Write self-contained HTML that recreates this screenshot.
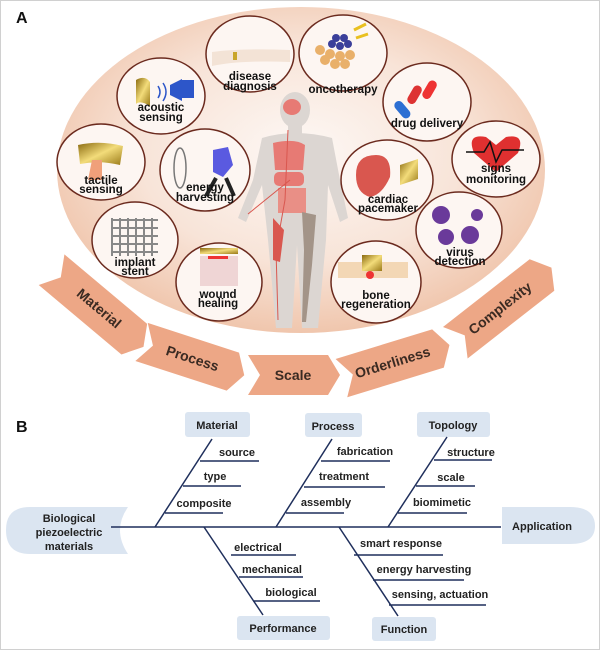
<!DOCTYPE html>
<html><head><meta charset="utf-8"><style>
html,body{margin:0;padding:0;background:#fff}
svg{display:block}
text{font-family:"Liberation Sans",Arial,sans-serif}
</style></head><body>
<svg width="600" height="650" viewBox="0 0 600 650" xmlns="http://www.w3.org/2000/svg">
<defs>
<radialGradient id="eg" cx="50%" cy="45%" r="55%">
<stop offset="0" stop-color="#fdf8f5"/><stop offset="0.6" stop-color="#f8e4d8"/><stop offset="1" stop-color="#f0c6ad"/>
</radialGradient>
<linearGradient id="gold" x1="0" y1="0" x2="1" y2="1"><stop offset="0" stop-color="#8a6a10"/><stop offset="0.5" stop-color="#f3dc7a"/><stop offset="1" stop-color="#9a7a18"/></linearGradient>
</defs>
<rect x="0.5" y="0.5" width="599" height="649" fill="#fff" stroke="#d0d0d0"/>
<text x="16" y="23" font-size="16" font-weight="bold" fill="#111">A</text>
<ellipse cx="301" cy="170" rx="244" ry="163" fill="url(#eg)"/>

<!-- human -->
<g fill="#dcd6d2">
<ellipse cx="295" cy="110" rx="15" ry="18"/>
<rect x="288" y="124" width="14" height="14"/>
<path d="M262 138 Q295 128 332 138 L340 180 L348 218 L340 222 L328 185 L326 240 L318 328 L302 328 L297 245 L292 328 L276 328 L268 240 L262 185 L246 222 L238 218 L253 180 Z"/>
</g>
<g fill="#e77a74">
<ellipse cx="292" cy="107" rx="9" ry="8"/>
<path d="M273 143 Q295 138 305 145 L303 170 L275 170 Z"/>
<rect x="274" y="172" width="30" height="14" rx="5"/>
<path d="M278 188 h28 v25 h-28 z" fill="#e98f86"/>
<path d="M273 218 L284 230 L280 262 L273 260 Z" fill="#d9574f"/>
</g>
<path d="M288 130 L285 200 L276 250 L278 320 M290 180 L248 214" stroke="#d9574f" stroke-width="1" fill="none"/>
<path d="M302 212 L316 215 L312 265 L306 322 L302 322 L304 250 Z" fill="#a39488"/>

<!-- circles -->
<g stroke="#6b2a1e" stroke-width="1.5" fill="#fdf6f2">
<ellipse cx="250" cy="54" rx="44" ry="38"/>
<ellipse cx="343" cy="53" rx="44" ry="38"/>
<ellipse cx="161" cy="96" rx="44" ry="38"/>
<ellipse cx="427" cy="102" rx="44" ry="39"/>
<ellipse cx="101" cy="162" rx="44" ry="38"/>
<ellipse cx="205" cy="170" rx="45" ry="41"/>
<ellipse cx="496" cy="159" rx="44" ry="38"/>
<ellipse cx="387" cy="180" rx="46" ry="40"/>
<ellipse cx="135" cy="240" rx="43" ry="38"/>
<ellipse cx="459" cy="230" rx="43" ry="38"/>
<ellipse cx="219" cy="282" rx="43" ry="39"/>
<ellipse cx="376" cy="282" rx="45" ry="41"/>
</g>
<!-- icons -->
<path d="M212 52 Q240 48 290 50 L290 62 Q240 60 212 66 Z" fill="#f3e3d6"/>
<rect x="233" y="52" width="4" height="8" fill="#c9a52a"/>
<g fill="#e9b06a"><circle cx="320" cy="50" r="5"/><circle cx="330" cy="54" r="5"/><circle cx="340" cy="56" r="5"/><circle cx="350" cy="55" r="5"/><circle cx="325" cy="60" r="5"/><circle cx="335" cy="64" r="5"/><circle cx="345" cy="64" r="5"/></g>
<g fill="#3b3f9a"><circle cx="332" cy="44" r="4"/><circle cx="340" cy="46" r="4"/><circle cx="348" cy="44" r="4"/><circle cx="336" cy="38" r="4"/><circle cx="344" cy="38" r="4"/></g>
<path d="M354 30 l12 -6 M356 38 l12 -4" stroke="#e9c020" stroke-width="3"/>
<path d="M136 80 Q145 75 150 82 L150 106 Q140 100 136 104 Z" fill="url(#gold)"/>
<path d="M170 85 l12 -6 v22 l-12 -6 z M182 80 h12 v18 h-12z" fill="#2d56c9"/>
<path d="M158 86 q4 6 0 12 M163 83 q6 9 0 18" stroke="#2d56c9" stroke-width="1.5" fill="none"/>
<rect x="410" y="85" width="9" height="20" rx="4.5" fill="#d33" transform="rotate(30 415 95)"/>
<rect x="425" y="80" width="9" height="20" rx="4.5" fill="#e33" transform="rotate(30 430 90)"/>
<rect x="398" y="100" width="9" height="20" rx="4.5" fill="#2d6fd3" transform="rotate(-40 402 110)"/>
<path d="M78 145 Q100 140 123 146 L120 165 Q100 160 80 164 Z" fill="url(#gold)"/>
<path d="M92 160 h10 v20 h-14 z" fill="#f0a07a"/>
<path d="M213 150 l15 -3 l5 18 l-10 12 l-10 -5 z" fill="#5a5ae0"/>
<path d="M216 178 l-10 18 M226 178 l8 18" stroke="#222" stroke-width="4"/>
<ellipse cx="180" cy="168" rx="6" ry="20" fill="none" stroke="#777" stroke-width="1.5"/>
<path d="M474 153 Q466 133 486 137 L496 145 L506 137 Q526 133 518 153 L496 172 Z" fill="#e03030"/>
<path d="M466 152 H484 L490 142 L496 162 L502 150 H524" stroke="#111" stroke-width="1.5" fill="none"/>
<path d="M356 175 q0 -20 20 -20 q16 0 14 22 q-8 18 -20 20 q-14 -4 -14 -22z" fill="#d9574f"/>
<path d="M400 165 l18 -6 v20 l-18 6z" fill="url(#gold)"/>
<g fill="#6a3a9a"><circle cx="441" cy="215" r="9"/><circle cx="477" cy="215" r="6"/><circle cx="446" cy="237" r="8"/><circle cx="470" cy="235" r="9"/></g>
<g stroke="#888" stroke-width="2"><path d="M112 218 V256 M120 218 V256 M128 218 V256 M136 218 V256 M144 218 V256 M152 218 V256 M112 220 H158 M112 228 H158 M112 236 H158 M112 244 H158 M112 252 H158"/></g>
<rect x="200" y="248" width="38" height="6" fill="url(#gold)"/>
<rect x="200" y="256" width="38" height="30" fill="#efd5d5"/>
<rect x="208" y="256" width="20" height="3" fill="#e33"/>
<rect x="338" y="262" width="70" height="16" fill="#f3d7b5"/>
<path d="M362 255 h20 v16 h-20z" fill="url(#gold)"/>
<circle cx="370" cy="275" r="4" fill="#e33"/>

<g font-size="11.5" font-weight="bold" fill="#111" text-anchor="middle">
<text x="250" y="80">disease</text><text x="250" y="90">diagnosis</text>
<text x="343" y="93">oncotherapy</text>
<text x="161" y="111">acoustic</text><text x="161" y="121">sensing</text>
<text x="427" y="127">drug delivery</text>
<text x="101" y="184">tactile</text><text x="101" y="193">sensing</text>
<text x="205" y="191">energy</text><text x="205" y="201">harvesting</text>
<text x="496" y="172">signs</text><text x="496" y="183">monitoring</text>
<text x="388" y="203">cardiac</text><text x="388" y="212">pacemaker</text>
<text x="135" y="266">implant</text><text x="135" y="275">stent</text>
<text x="460" y="256">virus</text><text x="460" y="265">detection</text>
<text x="218" y="298">wound</text><text x="218" y="307">healing</text>
<text x="376" y="299">bone</text><text x="376" y="308">regeneration</text>
</g>

<!-- chevrons -->
<g fill="#eda786">
<polygon points="-58,-20 50,-20 62,0 50,20 -58,20 -46,0" transform="translate(96 307) rotate(40)"/>
<polygon points="-52,-20 44,-20 56,0 44,20 -52,20 -40,0" transform="translate(191 358) rotate(18)"/>
<polygon points="-45,-20 35,-20 47,0 35,20 -45,20 -33,0" transform="translate(293 375)"/>
<polygon points="-55,-20 46,-20 58,0 46,20 -55,20 -43,0" transform="translate(394 362) rotate(-17)"/>
<polygon points="-58,-20 52,-20 64,0 52,20 -58,20 -46,0" transform="translate(501 307) rotate(-38)"/>
</g>
<g font-size="14" font-weight="bold" fill="#3a2a22" text-anchor="middle">
<text transform="translate(96 312) rotate(40)">Material</text>
<text transform="translate(191 363) rotate(18)">Process</text>
<text transform="translate(293 380)">Scale</text>
<text transform="translate(394 367) rotate(-17)">Orderliness</text>
<text transform="translate(503 312) rotate(-38)">Complexity</text>
</g>

<!-- Part B -->
<text x="16" y="432" font-size="16" font-weight="bold" fill="#111">B</text>
<path d="M30 507 H128 Q112 530 128 554 H30 Q6 554 6 530 Q6 507 30 507Z" fill="#dbe5f1"/>
<path d="M502 507 H570 Q595 507 595 526 Q595 544 570 544 H502Z" fill="#dbe5f1"/>
<g fill="#dbe5f1">
<rect x="185" y="412" width="65" height="25" rx="3"/>
<rect x="305" y="413" width="57" height="24" rx="3"/>
<rect x="417" y="412" width="73" height="25" rx="3"/>
<rect x="237" y="616" width="93" height="24" rx="3"/>
<rect x="372" y="617" width="64" height="24" rx="3"/>
</g>
<g stroke="#1f2f5c" stroke-width="1.5" fill="none">
<path d="M111 527 H501"/>
<path d="M212 439 L155 527 M200 461 H259 M183 486 H241 M165 513 H223"/>
<path d="M332 439 L276 527 M321 461 H390 M304 487 H385 M286 513 H344"/>
<path d="M447 437 L388 527 M434 460 H492 M416 486 H475 M398 513 H467"/>
<path d="M204 527 L263 615 M231 555 H296 M239 577 H303 M253 601 H320"/>
<path d="M339 527 L398 616 M354 555 H443 M373 580 H464 M389 605 H486"/>
</g>
<g font-size="11" font-weight="bold" fill="#222" text-anchor="middle">
<text x="69" y="522">Biological</text><text x="69" y="536">piezoelectric</text><text x="69" y="550">materials</text>
<text x="542" y="530">Application</text>
<text x="217" y="429">Material</text>
<text x="333" y="430">Process</text>
<text x="453" y="429">Topology</text>
<text x="283" y="632">Performance</text>
<text x="404" y="633">Function</text>
<text x="237" y="456">source</text>
<text x="215" y="480">type</text>
<text x="204" y="507">composite</text>
<text x="365" y="455">fabrication</text>
<text x="344" y="480">treatment</text>
<text x="326" y="506">assembly</text>
<text x="471" y="456">structure</text>
<text x="451" y="481">scale</text>
<text x="442" y="506">biomimetic</text>
<text x="258" y="551">electrical</text>
<text x="272" y="573">mechanical</text>
<text x="291" y="596">biological</text>
<text x="401" y="547">smart response</text>
<text x="424" y="573">energy harvesting</text>
<text x="440" y="598">sensing, actuation</text>
</g>
</svg>
</body></html>
